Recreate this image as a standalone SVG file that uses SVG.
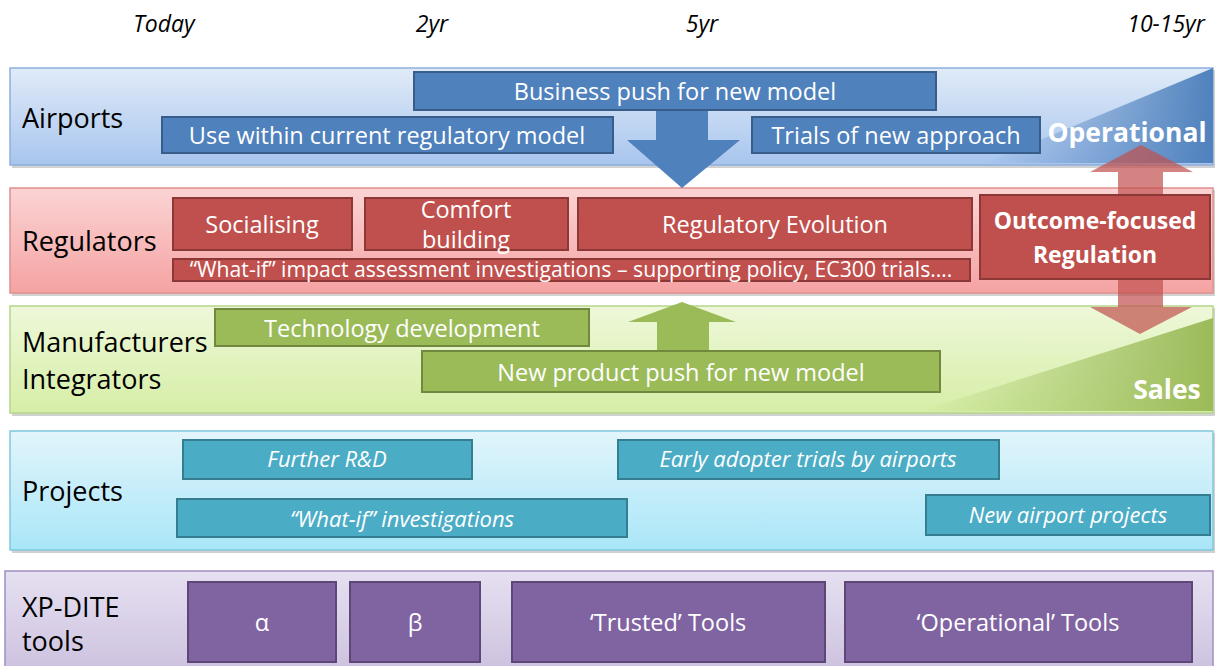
<svg xmlns="http://www.w3.org/2000/svg" width="1218" height="666" viewBox="0 0 1218 666">
<style>
text{font-family:"Open Sans","Liberation Sans",sans-serif;}
.yr{font-size:23px;font-style:italic;fill:#000;text-anchor:middle;}
.lane{font-size:27px;fill:#000;}
.w{fill:#fff;text-anchor:middle;font-size:23.5px;}
.wb{fill:#fff;text-anchor:middle;font-size:23px;font-weight:bold;}
.wi{fill:#fff;text-anchor:middle;font-size:22px;font-style:italic;}
.small{font-size:21.2px;}
.big{font-size:26.5px;}
.blue{fill:#4f81bd;stroke:#385d8a;stroke-width:2;}
.red{fill:#c0504d;stroke:#8c3836;stroke-width:2;}
.green{fill:#9bbb59;stroke:#71893f;stroke-width:2;}
.teal{fill:#4bacc6;stroke:#357d91;stroke-width:2;}
.purple{fill:#8064a2;stroke:#5c4776;stroke-width:2;}
.shadow{fill:#000;opacity:0.18;}
</style>
<defs>
<linearGradient id="gA" x1="0" y1="0" x2="0" y2="1"><stop offset="0" stop-color="#e0ebf8"/><stop offset="1" stop-color="#a8c5ee"/></linearGradient>
<linearGradient id="gR" x1="0" y1="0" x2="0" y2="1"><stop offset="0" stop-color="#fbd4d4"/><stop offset="1" stop-color="#f5a2a2"/></linearGradient>
<linearGradient id="gM" x1="0" y1="0" x2="0" y2="1"><stop offset="0" stop-color="#eef8da"/><stop offset="1" stop-color="#d6eea6"/></linearGradient>
<linearGradient id="gP" x1="0" y1="0" x2="0" y2="1"><stop offset="0" stop-color="#e2f5fb"/><stop offset="1" stop-color="#a9e6f8"/></linearGradient>
<linearGradient id="gX" x1="0" y1="0" x2="0" y2="1"><stop offset="0" stop-color="#e6e0f1"/><stop offset="1" stop-color="#cdc2df"/></linearGradient>
<linearGradient id="wA" x1="0" y1="0" x2="1" y2="0"><stop offset="0" stop-color="#4f81bd" stop-opacity="0"/><stop offset="1" stop-color="#4f81bd"/></linearGradient>
<linearGradient id="wM" x1="0" y1="0" x2="1" y2="0"><stop offset="0" stop-color="#9bbb59" stop-opacity="0"/><stop offset="1" stop-color="#9bbb59"/></linearGradient>
</defs>

<g id="timeline">
<text class="yr" x="164" y="32">Today</text>
<text class="yr" x="432" y="32">2yr</text>
<text class="yr" x="702" y="32">5yr</text>
<text class="yr" x="1166" y="32">10-15yr</text>
</g>

<g id="lane-airports">
<rect class="shadow" x="12" y="70" width="1203" height="98"/>
<rect x="10" y="68" width="1203" height="97" fill="url(#gA)" stroke="#8eaedb" stroke-width="1.5"/>
<polygon points="985,163 1213,68 1213,163" fill="url(#wA)"/>
<text class="lane" x="22" y="128">Airports</text>
</g>

<g id="lane-regulators">
<rect class="shadow" x="12" y="190" width="1203" height="106"/>
<rect x="10" y="188" width="1203" height="105" fill="url(#gR)" stroke="#e08f8f" stroke-width="1.5"/>
<text class="lane" x="22" y="251">Regulators</text>
</g>

<g id="lane-manufacturers">
<rect class="shadow" x="12" y="308" width="1203" height="108"/>
<rect x="10" y="306" width="1203" height="107" fill="url(#gM)" stroke="#b5d68c" stroke-width="1.5"/>
<polygon points="920,411 1213,318 1213,411" fill="url(#wM)"/>
<text class="lane" x="22" y="352">Manufacturers</text>
<text class="lane" x="22" y="389">Integrators</text>
</g>

<g id="lane-projects">
<rect class="shadow" x="12" y="433" width="1203" height="120"/>
<rect x="10" y="431" width="1203" height="119" fill="url(#gP)" stroke="#80c8dd" stroke-width="1.5"/>
<text class="lane" x="22" y="501">Projects</text>
</g>

<g id="lane-xpdite">
<rect x="5" y="571" width="1208" height="100" fill="url(#gX)" stroke="#a08fc2" stroke-width="1.5"/>
<text class="lane" x="22" y="617">XP-DITE</text>
<text class="lane" x="22" y="651">tools</text>
</g>

<g id="connectors">
<polygon points="656,110 708,110 708,140 740,140 682,188 627,140 656,140" fill="#4f81bd"/>
<polygon points="682,302 736,322 709,322 709,351 657,351 657,322 628,322" fill="#9bbb59"/>
<polygon points="1141,145 1193,172 1163,172 1163,307 1192,307 1140,334 1090,307 1118,307 1118,172 1090,172" fill="#c0504d" opacity="0.7"/>
</g>

<g id="n-business"><rect class="blue" x="414" y="72" width="522" height="38"/><text class="w" x="675" y="100">Business push for new model</text></g>
<g id="n-usewithin"><rect class="blue" x="162" y="117" width="451" height="36"/><text class="w" x="387" y="144">Use within current regulatory model</text></g>
<g id="n-trials"><rect class="blue" x="752" y="117" width="288" height="36"/><text class="w" x="896" y="144">Trials of new approach</text></g>
<g id="n-operational"><text class="wb big" x="1127" y="142">Operational</text></g>

<g id="n-socialising"><rect class="red" x="173" y="198" width="179" height="52"/><text class="w" x="262" y="233">Socialising</text></g>
<g id="n-comfort"><rect class="red" x="365" y="198" width="203" height="52"/><text class="w" x="466" y="218">Comfort</text><text class="w" x="466" y="248">building</text></g>
<g id="n-regevo"><rect class="red" x="578" y="198" width="394" height="52"/><text class="w" x="775" y="233">Regulatory Evolution</text></g>
<g id="n-whatif-impact"><rect class="red" x="173" y="259" width="797" height="22"/><text class="w small" x="571" y="277">“What-if” impact assessment investigations – supporting policy, EC300 trials….</text></g>
<g id="n-outcome"><rect class="red" x="980" y="195" width="230" height="84"/><text class="wb" x="1095" y="229">Outcome-focused</text><text class="wb" x="1095" y="263">Regulation</text></g>

<g id="n-techdev"><rect class="green" x="215" y="309" width="374" height="37"/><text class="w" x="402" y="337">Technology development</text></g>
<g id="n-newproduct"><rect class="green" x="422" y="351" width="518" height="41"/><text class="w" x="681" y="381">New product push for new model</text></g>
<g id="n-sales"><text class="wb big" x="1167" y="399">Sales</text></g>

<g id="n-further"><rect class="teal" x="183" y="440" width="289" height="39"/><text class="wi" x="327" y="467">Further R&amp;D</text></g>
<g id="n-whatif"><rect class="teal" x="177" y="499" width="450" height="38"/><text class="wi" x="402" y="527">“What-if” investigations</text></g>
<g id="n-early"><rect class="teal" x="618" y="440" width="381" height="39"/><text class="wi" x="808" y="467">Early adopter trials by airports</text></g>
<g id="n-newairport"><rect class="teal" x="926" y="495" width="284" height="40"/><text class="wi" x="1068" y="523">New airport projects</text></g>

<g id="n-alpha"><rect class="purple" x="188" y="582" width="148" height="80"/><text class="w" x="262" y="631">α</text></g>
<g id="n-beta"><rect class="purple" x="350" y="582" width="130" height="80"/><text class="w" x="415" y="631">β</text></g>
<g id="n-trusted"><rect class="purple" x="512" y="582" width="313" height="80"/><text class="w" x="668" y="631">‘Trusted’ Tools</text></g>
<g id="n-optools"><rect class="purple" x="845" y="582" width="347" height="80"/><text class="w" x="1018" y="631">‘Operational’ Tools</text></g>
</svg>
